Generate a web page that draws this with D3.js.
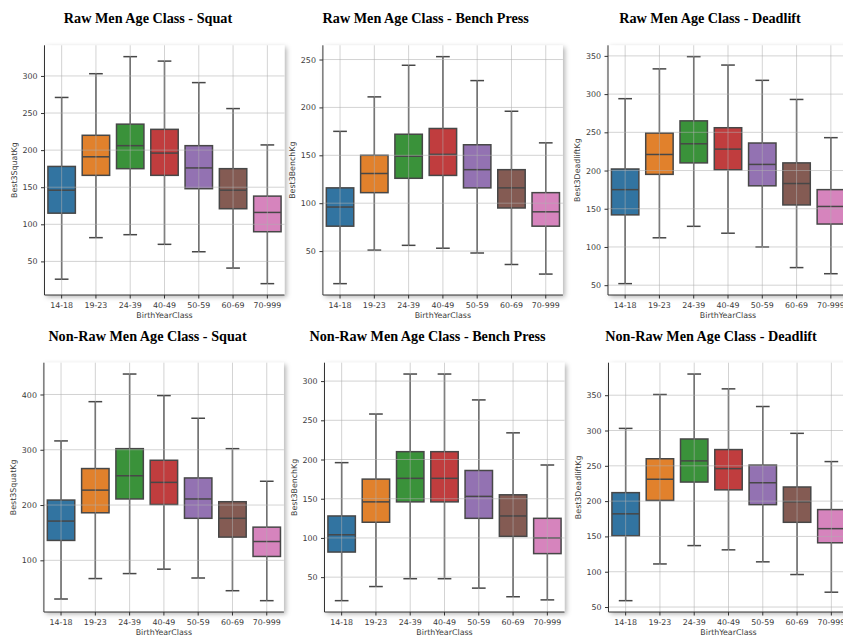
<!DOCTYPE html>
<html><head><meta charset="utf-8">
<script src="https://cdn.jsdelivr.net/npm/d3@7"></script>
<style>body{margin:0;background:#fff;overflow:hidden}</style>
</head><body><svg id="c" width="843" height="637"></svg>
<script>
const categories = ["14-18","19-23","24-39","40-49","50-59","60-69","70-999"];
const colors = ["#3274a1","#e1812c","#3a923a","#c03d3e","#9372b2","#845b53","#d684bd"];
// each row: [low whisker, Q1, median, Q3, high whisker]
const rawSquat = [[26,115,146,178,271],[82,166,191,220,303],[86,175,206,235,326],[73,166,196,228,320],[63,148,176,206,291],[41,121,146,175,256],[20,90,116,138,207]];
const rawBench = [[16,76,96,116,175],[51,111,131,150,211],[56,126,149,172,244],[53,129,151,178,253],[48,116,135,161,228],[36,95,116,135,196],[26,76,91,111,163]];
const rawDeadlift = [[52,142,175,202,294],[112,195,221,249,333],[127,210,235,265,349],[118,201,228,256,338],[100,180,208,236,318],[73,155,183,210,293],[65,130,153,175,243]];
const nonRawSquat = [[30,136,171,209,316],[67,186,227,266,387],[76,211,253,302,437],[84,201,241,281,398],[68,176,211,249,357],[45,142,176,206,302],[27,107,134,160,243]];
const nonRawBench = [[20,82,104,128,196],[38,120,146,175,258],[48,146,176,210,309],[48,146,176,210,309],[36,125,153,186,276],[25,102,128,155,234],[21,80,100,125,193]];
const nonRawDeadlift = [[59,151,182,212,303],[111,201,231,260,351],[137,227,257,288,380],[131,216,246,273,359],[114,195,226,251,334],[96,170,199,220,296],[71,141,161,188,256]];

const ticksRawSquat = [50,100,150,200,250,300];
const ticksRawBench = [50,100,150,200,250];
const ticksRawDeadlift = [50,100,150,200,250,300,350];
const ticksNonRawSquat = [100,200,300,400];
const ticksNonRawBench = [50,100,150,200,250,300];
const ticksNonRawDeadlift = [50,100,150,200,250,300,350];

const titles = ["Raw Men Age Class - Squat","Raw Men Age Class - Bench Press","Raw Men Age Class - Deadlift",
  "Non-Raw Men Age Class - Squat","Non-Raw Men Age Class - Bench Press","Non-Raw Men Age Class - Deadlift"];
const yLabels = ["Best3SquatKg","Best3BenchKg","Best3DeadliftKg","Best3SquatKg","Best3BenchKg","Best3DeadliftKg"];
const xLabel = "BirthYearClass";

const datasets = [rawSquat, rawBench, rawDeadlift, nonRawSquat, nonRawBench, nonRawDeadlift];
const tickSets = [ticksRawSquat, ticksRawBench, ticksRawDeadlift, ticksNonRawSquat, ticksNonRawBench, ticksNonRawDeadlift];

// layout
const layout = [
  {left:44.5, top:45.3, bottom:295, tx:148, ty:22.6},
  {left:322.9, top:45.3, bottom:295, tx:425.7, ty:22.6},
  {left:608, top:45.3, bottom:295, tx:710, ty:22.6},
  {left:43.9, top:362.7, bottom:612, tx:147.5, ty:340.5},
  {left:324.5, top:362.7, bottom:612, tx:427.5, ty:340.5},
  {left:608.5, top:362.7, bottom:612, tx:711, ty:340.5}
];
const bandW = 240;

const svg = d3.select("#c");
const defs = svg.append("defs");
const f = defs.append("filter").attr("id","sh").attr("x","-10%").attr("y","-10%").attr("width","130%").attr("height","130%");
f.append("feDropShadow").attr("dx",2).attr("dy",2).attr("stdDeviation",2.5).attr("flood-color","#000").attr("flood-opacity",0.3);

const lineCol = "#474747";
const txtCol = "#3a3a3a";
const fontSans = "'DejaVu Sans', sans-serif";

datasets.forEach((data, i) => {
  const L = layout[i];
  const g = svg.append("g");
  const allV = data.flat();
  const mn = d3.min(allV), mx = d3.max(allV), r = mx - mn;
  const y = d3.scaleLinear().domain([mn - 0.05*r, mx + 0.05*r]).range([L.bottom, L.top]);
  const x = d3.scaleBand().domain(categories).range([L.left, L.left + bandW]).paddingInner(0).paddingOuter(0);
  const bw = x.bandwidth() * 0.8;

  g.append("rect").attr("x", L.left).attr("y", L.top).attr("width", bandW).attr("height", L.bottom - L.top)
    .attr("fill","#fff").attr("filter","url(#sh)");

  const bx = g.selectAll(".b").data(data).enter().append("g");
  const cx = j => x(categories[j]) + x.bandwidth()/2;
  bx.append("line").attr("x1", (d,j)=>cx(j)).attr("x2",(d,j)=>cx(j))
    .attr("y1", d=>y(d[0])).attr("y2", d=>y(d[1])).attr("stroke",lineCol).attr("stroke-width",1.5);
  bx.append("line").attr("x1", (d,j)=>cx(j)).attr("x2",(d,j)=>cx(j))
    .attr("y1", d=>y(d[3])).attr("y2", d=>y(d[4])).attr("stroke",lineCol).attr("stroke-width",1.5);
  [0,4].forEach(k => {
    bx.append("line").attr("x1",(d,j)=>cx(j) - bw/4).attr("x2",(d,j)=>cx(j) + bw/4)
      .attr("y1", d=>y(d[k])).attr("y2", d=>y(d[k])).attr("stroke",lineCol).attr("stroke-width",1.5);
  });
  bx.append("rect").attr("x",(d,j)=>cx(j)-bw/2).attr("width",bw)
    .attr("y", d=>y(d[3])).attr("height", d=>y(d[1])-y(d[3]))
    .attr("fill",(d,j)=>colors[j]).attr("stroke",lineCol).attr("stroke-width",1.5);
  bx.append("line").attr("x1",(d,j)=>cx(j)-bw/2).attr("x2",(d,j)=>cx(j)+bw/2)
    .attr("y1", d=>y(d[2])).attr("y2", d=>y(d[2])).attr("stroke",lineCol).attr("stroke-width",1.5);

  const grid = g.append("g").attr("stroke","rgba(175,175,175,0.55)").attr("stroke-width",1);
  tickSets[i].forEach(t => grid.append("line").attr("x1",L.left).attr("x2",L.left+bandW).attr("y1",y(t)).attr("y2",y(t)));
  categories.forEach(c => grid.append("line").attr("x1",x(c)+x.bandwidth()/2).attr("x2",x(c)+x.bandwidth()/2).attr("y1",L.top).attr("y2",L.bottom));

  const ya = g.append("g").attr("transform",`translate(${L.left},0)`)
    .call(d3.axisLeft(y).tickValues(tickSets[i]).tickSize(3.5).tickPadding(3.5));
  const xa = g.append("g").attr("transform",`translate(0,${L.bottom})`)
    .call(d3.axisBottom(x).tickSize(3.5).tickPadding(3.5));
  [ya, xa].forEach(a => {
    a.select(".domain").attr("stroke","#333").attr("stroke-width",1);
    a.selectAll(".tick line").attr("stroke","#333");
    a.selectAll("text").attr("fill",txtCol).style("font-family",fontSans).style("font-size","7.9px");
  });
  xa.select(".domain").attr("d",`M${L.left},0H${L.left+bandW}`);
  ya.select(".domain").attr("d",`M0,${L.bottom}V${L.top}`);

  g.append("text").attr("x", L.left + bandW/2).attr("y", L.bottom + 23.4).attr("text-anchor","middle")
    .attr("fill",txtCol).style("font-family",fontSans).style("font-size","7.9px").text(xLabel);
  g.append("text").attr("transform",`translate(${L.left-30.5},${(L.top+L.bottom)/2}) rotate(-90)`)
    .attr("text-anchor","middle").attr("dy","0.35em")
    .attr("fill",txtCol).style("font-family",fontSans).style("font-size","7.9px").text(yLabels[i]);

  svg.append("text").attr("x", L.tx).attr("y", L.ty).attr("text-anchor","middle")
    .attr("fill","#000").style("font-family","'Liberation Serif', 'Times New Roman', serif")
    .style("font-weight","bold").style("font-size","14.2px").text(titles[i]);
});
</script></body></html>
